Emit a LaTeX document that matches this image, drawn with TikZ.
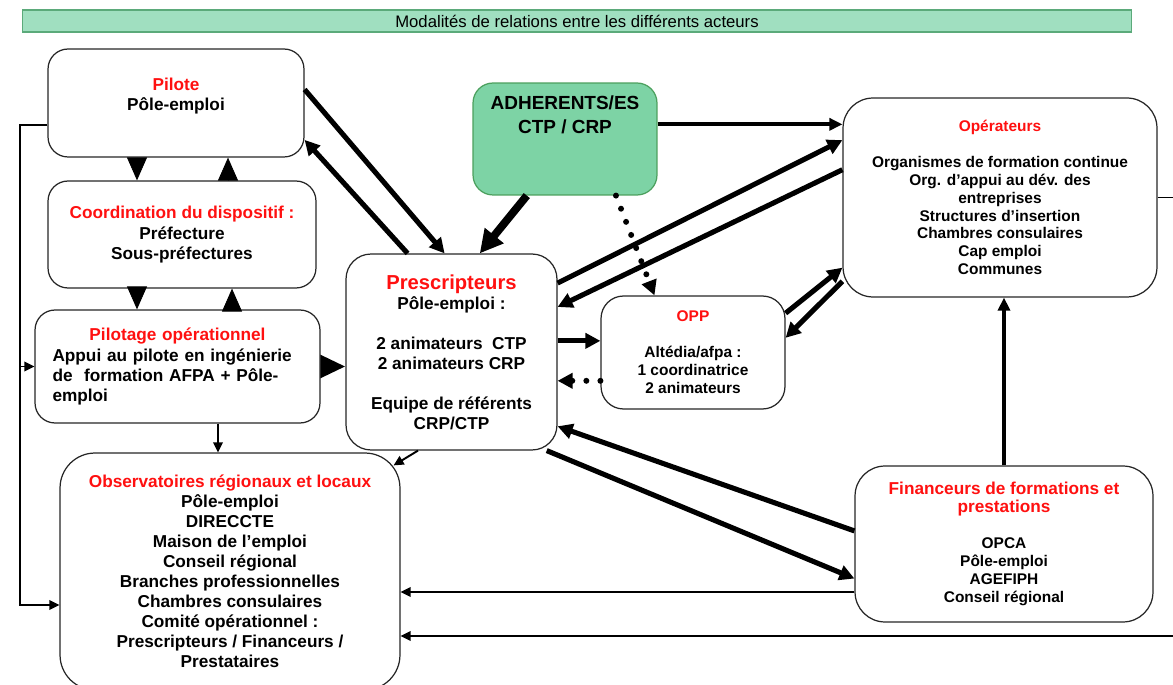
\documentclass[tikz,border=0pt]{standalone}
\usepackage{fontspec}
\setmainfont{Liberation Sans}
\usetikzlibrary{arrows.meta, positioning, calc}
\definecolor{cred}{HTML}{FF1010}
\definecolor{cgreen}{HTML}{7DD3A5}
\definecolor{cgreenline}{HTML}{4CA05E}
\definecolor{cbar}{HTML}{A0DFC0}
\definecolor{cbarline}{HTML}{5BAA7A}
\tikzset{
  every picture/.style={line width=0.7pt},
  box/.style={draw=black!85, fill=white, rounded corners=0.4cm, align=center, inner sep=2pt,
              font=\fontsize{9.8}{11.4}\selectfont\bfseries},
  sbox/.style={box, rounded corners=0.6cm, font=\fontsize{8.8}{10.2}\selectfont\bfseries},
  txt/.style={inner sep=0pt, align=center, font=\fontsize{9.8}{11.4}\selectfont\bfseries},
  bar/.style={draw=cbarline, fill=cbar, inner sep=0pt, font=\fontsize{9.5}{11}\selectfont},
  bigarrow/.style={-{Triangle[length=3mm,width=3mm]}, line width=2.9pt},
  hugearrow/.style={-{Triangle[length=4.6mm,width=4.6mm]}, line width=4.5pt},
  fatarrow/.style={-{Triangle[length=5mm,width=4.4mm]}, line width=3pt},
  midarrow/.style={-{Triangle[length=2.6mm,width=2.4mm]}, line width=2.2pt},
  thinarrow/.style={-{Triangle[length=2mm,width=1.9mm]}, line width=1.1pt},
  dotarrow/.style={-{Triangle[length=3mm,width=3mm]}, line width=3.4pt, line cap=round, dash pattern=on 0pt off 8pt},
  tri/.style={-{Triangle[length=4.6mm,width=4mm]}, line width=0.5pt},
}

\begin{document}
\begin{tikzpicture}[x=0.02cm, y=-0.02cm]
  \useasboundingbox (0,0) rectangle (1173,685);

  % title bar
  \node[bar, minimum width=22.18cm, minimum height=0.44cm] (title) at (577,21)
    {Modalités de relations entre les différents acteurs};

  % left column
  \node[box, minimum width=5.12cm, minimum height=2.16cm] (pil) at (176,103) {};
  \node[txt, below=0.58cm of pil.north] (piltxt) {\textcolor{cred}{Pilote}\\Pôle-emploi};
  \node[box, minimum width=5.36cm, minimum height=2.14cm] (coord) at (182,234.5)
    {\textcolor{cred}{Coordination du dispositif :}\\[1pt]Préfecture\\Sous-préfectures};
  \node[box, minimum width=5.7cm, minimum height=2.26cm, text width=5.0cm, align=left] (pilop) at (177.5,366.5)
    {{\centering\textcolor{cred}{Pilotage opérationnel}\par}Appui au pilote en ingénierie\\de\ \ formation AFPA + Pôle-\\emploi};
  \node[box, rounded corners=0.7cm, minimum width=6.8cm, minimum height=4.74cm] (obs) at (230,571.5)
    {\textcolor{cred}{Observatoires régionaux et locaux}\\Pôle-emploi\\DIRECCTE\\Maison de l’emploi\\Conseil régional\\
     Branches professionnelles\\Chambres consulaires\\Comité opérationnel :\\Prescripteurs / Financeurs /\\Prestataires};

  % centre
  \node[box, rounded corners=0.5cm, minimum width=4.22cm, minimum height=3.92cm] (pres) at (451.5,352)
    {{\fontsize{11.5}{13}\selectfont\textcolor{cred}{Prescripteurs}}\\Pôle-emploi :\\[11.4pt]2 animateurs\ \ CTP\\2 animateurs CRP\\[11.4pt]Equipe de référents\\CRP/CTP};
  \node[box, draw=cgreenline, fill=cgreen, minimum width=3.68cm, minimum height=2.24cm] (adh) at (565,139) {};
  \node[txt, font=\fontsize{10.8}{13.5}\selectfont\bfseries, below=0.26cm of adh.north] (adhtxt) {ADHERENTS/ES\\CTP / CRP};
  \node[sbox, rounded corners=0.45cm, minimum width=3.68cm, minimum height=2.26cm] (opp) at (693,352.5)
    {\textcolor{cred}{OPP}\\[10.2pt]Altédia/afpa :\\1 coordinatrice\\2 animateurs};

  % right column
  \node[sbox, minimum width=6.28cm, minimum height=3.98cm] (ope) at (1000,197.5)
    {\textcolor{cred}{Opérateurs}\\[10.2pt]Organismes de formation continue\\Org. d’appui au dév. des\\entreprises\\
     Structures d’insertion\\Chambres consulaires\\Cap emploi\\Communes};
  \node[sbox, minimum width=5.96cm, minimum height=3.12cm] (fin) at (1004,544)
    {{\fontsize{9.8}{11}\selectfont\textcolor{cred}{Financeurs de formations et}}\\{\fontsize{9.8}{11}\selectfont\textcolor{cred}{prestations}}\\[10.2pt]
     OPCA\\Pôle-emploi\\AGEFIPH\\Conseil régional};

  % helper points
  \coordinate (xa) at (137,0);
  \coordinate (xb) at (228,0);
  \coordinate (xc) at (232,0);
  \coordinate (xd) at (218,0);
  \coordinate (lft) at (20,605);
  \coordinate (rgt) at (1185,636);

  % triangles between left boxes
  \draw[tri] (pil.south -| xa) -- (coord.north -| xa);
  \draw[tri] (coord.north -| xb) -- (pil.south -| xb);
  \draw[tri] (coord.south -| xa) -- (pilop.north -| xa);
  \draw[tri] (pilop.north -| xc) -- (coord.south -| xc);

  % thick connectors
  \draw[bigarrow] (pil.6) -- (pres.94);
  \draw[bigarrow] (pres.114) -- (pil.-16);
  \draw[hugearrow] (adh.236) -- (pres.74);
  \draw[midarrow] (adh.9) -- (adh.9 -| ope.west);
  \draw[dotarrow] (adh.-48) -- (opp.124);
  \draw[bigarrow] (pres.33) -- (ope.160);
  \draw[bigarrow] (ope.170) -- (pres.23);
  \draw[bigarrow] (pres.6.5) -- (pres.6.5 -| opp.west);
  \draw[dotarrow] (opp.197) -- (opp.197 -| pres.east);
  \draw[bigarrow] (opp.23) -- (ope.204);
  \draw[bigarrow] (ope.208) -- (opp.9);
  \draw[bigarrow] (fin.175) -- (pres.-35);
  \draw[bigarrow] (pres.-46) -- (fin.193);
  \draw[midarrow] (fin.north) -- (fin.north |- ope.south);
  \draw[fatarrow] (pilop.east) -- (pres.west |- pilop.east);

  % thin connectors
  \draw[thinarrow] ([yshift=-0.44cm]pil.west) -| (lft) -- (lft -| obs.west);
  \draw[thinarrow] (lft |- pilop.west) -- (pilop.west);
  \draw[thinarrow] (pilop.south -| xd) -- (obs.north -| xd);
  \draw[thinarrow] ([xshift=-0.67cm]pres.south) -- ([shift={(-7,13)}]obs.north east);
  \draw[thinarrow] ([yshift=-0.96cm]fin.west) -- ([yshift=-0.96cm]fin.west -| obs.east);
  \draw[thinarrow] (ope.east) -- (ope.east -| rgt) -- (rgt) -- (rgt -| obs.east);
\end{tikzpicture}
\end{document}
